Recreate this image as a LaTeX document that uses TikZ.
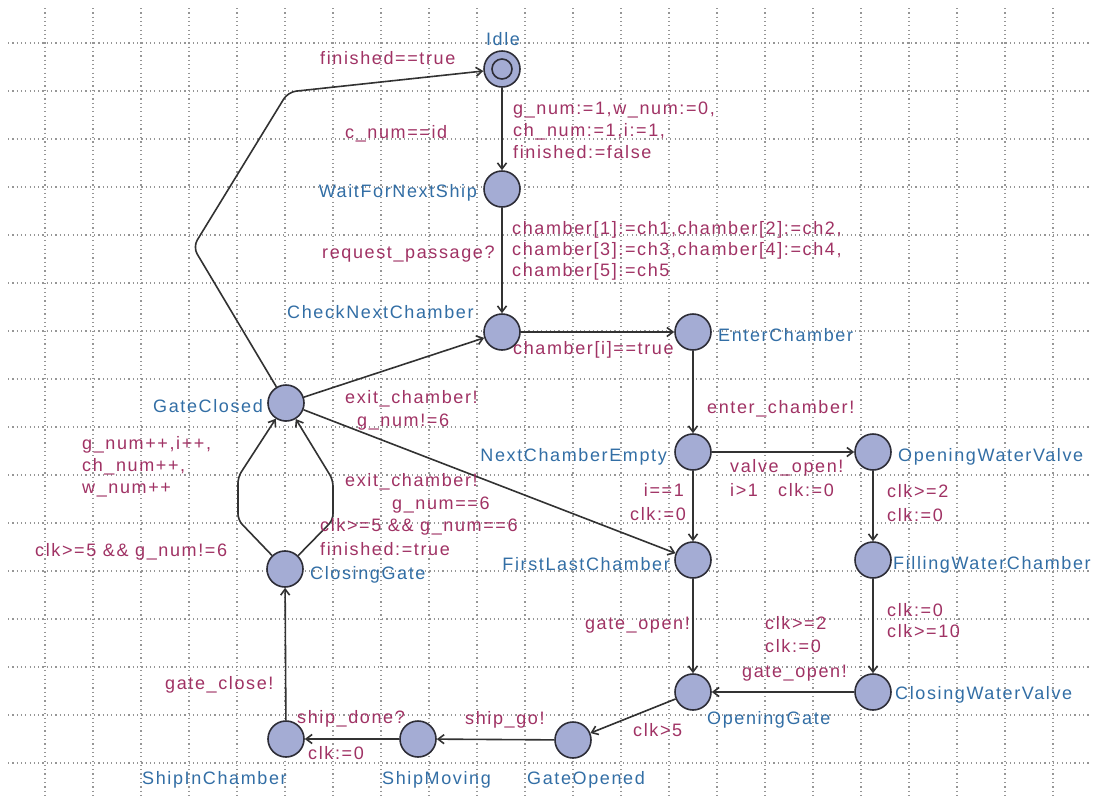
\documentclass[tikz,border=0pt]{standalone}
\usepackage{fontspec}
\setmainfont{Liberation Sans}[LetterSpace=9]
\usetikzlibrary{arrows.meta}
\definecolor{lblred}{RGB}{160,50,100}
\definecolor{lblblue}{RGB}{50,110,165}
\definecolor{locfill}{RGB}{164,172,212}
\definecolor{locdraw}{RGB}{45,45,55}
\definecolor{edgecol}{RGB}{50,50,50}
\definecolor{gridcol}{RGB}{150,150,150}
\begin{document}
\begin{tikzpicture}[x=1pt,y=-1pt,
  loc/.style={circle,fill=locfill,draw=locdraw,line width=1.6pt,minimum size=36pt,inner sep=0pt},
  locname/.style={text=lblblue,font=\fontsize{18}{21}\selectfont,inner sep=0pt},
  elbl/.style={text=lblred,font=\fontsize{18}{21}\selectfont,inner sep=0pt},
  edge/.style={draw=edgecol,line width=1.6pt,-{Straight Barb[length=6pt,width=9pt]}},
  gridln/.style={gridcol,line width=1.2pt,dash pattern=on 1.2pt off 3.1pt}]
\useasboundingbox (0,0) rectangle (1096,801);
\fill[white] (0,0) rectangle (1096,801);
% grid
\foreach \k in {0,...,21} \draw[gridln] (45+48*\k,8) -- (45+48*\k,795);
\foreach \k in {0,...,15} \draw[gridln] (8,43+48*\k) -- (1090,43+48*\k);
% locations
\node[loc] (idle) at (502,69) {};
\node[circle,draw=locdraw,line width=1.6pt,minimum size=20pt,inner sep=0pt] (idleinner) at (idle) {};
\node[loc] (wait) at (502,189) {};
\node[loc] (check) at (502,332) {};
\node[loc] (enter) at (693,332) {};
\node[loc] (nce) at (693,452) {};
\node[loc] (owv) at (873,452) {};
\node[loc] (flc) at (693,560) {};
\node[loc] (fwc) at (873,560) {};
\node[loc] (og) at (693,692) {};
\node[loc] (cwv) at (873,692) {};
\node[loc] (gopen) at (573,740) {};
\node[loc] (smov) at (418,739) {};
\node[loc] (sic) at (286,739) {};
\node[loc] (cgate) at (285,569) {};
\node[loc] (gclosed) at (286,403) {};
% nails
\coordinate (n1) at (238,520);
\coordinate (n2) at (238,477);
\coordinate (n3) at (333,520);
\coordinate (n4) at (333,480);
\coordinate (n5) at (193,247);
\coordinate (n6) at (288,92);
% edges
\draw[edge] (idle) -- (wait);
\draw[edge] (wait) -- (check);
\draw[edge] (check) -- (enter);
\draw[edge] (enter) -- (nce);
\draw[edge] (nce) -- (owv);
\draw[edge] (nce) -- (flc);
\draw[edge] (owv) -- (fwc);
\draw[edge] (fwc) -- (cwv);
\draw[edge] (cwv) -- (og);
\draw[edge] (flc) -- (og);
\draw[edge] (og) -- (gopen);
\draw[edge] (gopen) -- (smov);
\draw[edge] (smov) -- (sic);
\draw[edge] (sic) -- (cgate);
\draw[edge,rounded corners=6pt] (cgate) -- (n1) -- (n2) -- (gclosed);
\draw[edge,rounded corners=6pt] (cgate) -- (n3) -- (n4) -- (gclosed);
\draw[edge] (gclosed) -- (check);
\draw[edge] (gclosed) -- (flc);
\draw[edge,rounded corners=8pt] (gclosed) -- (n5) -- (n6) -- (idle);
% location names
\node[locname,anchor=base] (tIdle) at (503,45) {Idle};
\node[locname,anchor=base east] (tWait) at (477,197) {WaitForNextShip};
\node[locname,anchor=base west] (tCheck) at (287,318) {CheckNextChamber};
\node[locname,anchor=base west] (tEnter) at (718,341) {EnterChamber};
\node[locname,anchor=base east] (tNce) at (667,461) {NextChamberEmpty};
\node[locname,anchor=base west] (tOwv) at (898,461) {OpeningWaterValve};
\node[locname,anchor=base east] (tFlc) at (670,570) {FirstLastChamber};
\node[locname,anchor=base west] (tFwc) at (893,569) {FillingWaterChamber};
\node[locname,anchor=base west] (tCwv) at (895,699) {ClosingWaterValve};
\node[locname,anchor=base west] (tOg) at (707,724) {OpeningGate};
\node[locname,anchor=base west] (tGopen) at (527,784) {GateOpened};
\node[locname,anchor=base west] (tSmov) at (382,784) {ShipMoving};
\node[locname,anchor=base west] (tSic) at (142,784) {ShipInChamber};
\node[locname,anchor=base west] (tCgate) at (310,579) {ClosingGate};
\node[locname,anchor=base east] (tGclosed) at (263,412) {GateClosed};
% edge labels
\node[elbl,anchor=base west] (l1) at (320,64) {finished==true};
\node[elbl,anchor=base west] (l2) at (345,138) {c\_num==id};
\node[elbl,anchor=base west] (l3a) at (513,114) {g\_num:=1,w\_num:=0,};
\node[elbl,anchor=base west] (l3b) at (513,136) {ch\_num:=1,i:=1,};
\node[elbl,anchor=base west] (l3c) at (513,158) {finished:=false};
\node[elbl,anchor=base west] (l4) at (322,258) {request\_passage?};
\node[elbl,anchor=base west] (l5a) at (512,234) {chamber[1]:=ch1,chamber[2]:=ch2,};
\node[elbl,anchor=base west] (l5b) at (512,255) {chamber[3]:=ch3,chamber[4]:=ch4,};
\node[elbl,anchor=base west] (l5c) at (512,276) {chamber[5]:=ch5};
\node[elbl,anchor=base west] (l6) at (513,354) {chamber[i]==true};
\node[elbl,anchor=base west] (l7) at (707,413) {enter\_chamber!};
\node[elbl,anchor=base west] (l8) at (730,472) {valve\_open!};
\node[elbl,anchor=base west] (l9) at (730,496) {i>1};
\node[elbl,anchor=base west] (l10) at (778,496) {clk:=0};
\node[elbl,anchor=base east] (l11) at (684,496) {i==1};
\node[elbl,anchor=base east] (l12) at (686,520) {clk:=0};
\node[elbl,anchor=base west] (l13) at (887,497) {clk>=2};
\node[elbl,anchor=base west] (l14) at (887,521) {clk:=0};
\node[elbl,anchor=base west] (l15) at (887,616) {clk:=0};
\node[elbl,anchor=base west] (l16) at (887,637) {clk>=10};
\node[elbl,anchor=base west] (l17) at (765,629) {clk>=2};
\node[elbl,anchor=base west] (l18) at (765,652) {clk:=0};
\node[elbl,anchor=base west] (l19) at (742,677) {gate\_open!};
\node[elbl,anchor=base east] (l20) at (690,629) {gate\_open!};
\node[elbl,anchor=base west] (l21) at (633,736) {clk>5};
\node[elbl,anchor=base west] (l22) at (465,724) {ship\_go!};
\node[elbl,anchor=base west] (l23) at (297,723) {ship\_done?};
\node[elbl,anchor=base west] (l24) at (308,759) {clk:=0};
\node[elbl,anchor=base west] (l25) at (165,689) {gate\_close!};
\node[elbl,anchor=base west] (l26a) at (82,449) {g\_num++,i++,};
\node[elbl,anchor=base west] (l26b) at (82,471) {ch\_num++,};
\node[elbl,anchor=base west] (l26c) at (82,493) {w\_num++};
\node[elbl,anchor=base west] (l27) at (35,556) {clk>=5 \&\& g\_num!=6};
\node[elbl,anchor=base west] (l28) at (320,531) {clk>=5 \&\& g\_num==6};
\node[elbl,anchor=base west] (l29) at (320,555) {finished:=true};
\node[elbl,anchor=base west] (l30) at (345,403) {exit\_chamber!};
\node[elbl,anchor=base west] (l31) at (357,426) {g\_num!=6};
\node[elbl,anchor=base west] (l32) at (345,486) {exit\_chamber!};
\node[elbl,anchor=base west] (l33) at (392,509) {g\_num==6};
\end{tikzpicture}
\end{document}
